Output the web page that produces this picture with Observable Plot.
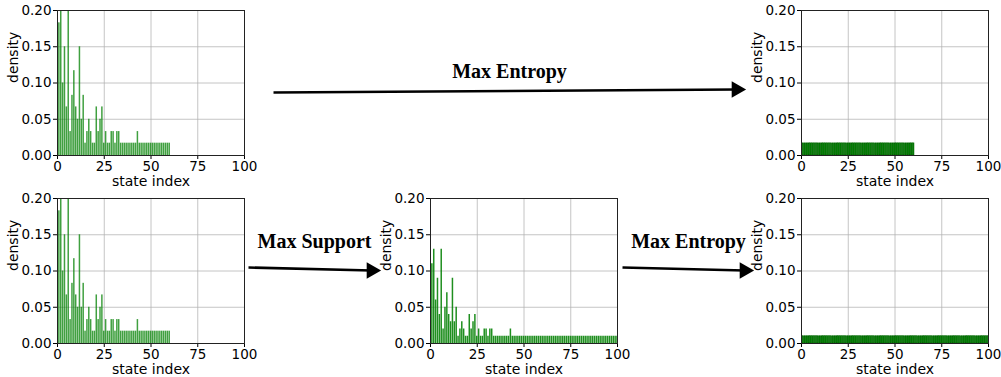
<!DOCTYPE html>
<html><head><meta charset="utf-8">
<script src="https://cdn.jsdelivr.net/npm/d3@7"></script>
<script src="https://cdn.jsdelivr.net/npm/@observablehq/plot@0.6"></script>
<style>
body{margin:0;background:#fff;}
#fig{position:relative;width:1001px;height:377px;overflow:hidden;background:#fff;}
#fig > svg{position:absolute;}
</style></head><body><div id="fig"></div>
<script>
// ---- data ----
const xTicks = [0, 25, 50, 75, 100];
const yTicks = [0, 0.05, 0.10, 0.15, 0.20];
const xLabel = "state index";
const yLabel = "density";

// original distribution, states 1..60
const densityOriginal = [
  0.183,0.217,0.100,0.150,0.067,0.217,0.033,0.083,0.117,0.067,
  0.050,0.150,0.050,0.083,0.017,0.033,0.050,0.033,0.017,0.017,
  0.067,0.033,0.050,0.067,0.017,0.033,0.017,0.017,0.033,0.033,
  0.017,0.033,0.033,0.017,0.017,0.017,0.017,0.017,0.017,0.017,
  0.017,0.017,0.033,0.017,0.017,0.017,0.017,0.017,0.017,0.017,
  0.017,0.017,0.017,0.017,0.017,0.017,0.017,0.017,0.017,0.017
];
// after max support, states 1..100
const densitySupport = [
  0.11,0.13,0.06,0.09,0.04,0.13,0.02,0.05,0.07,0.04,
  0.03,0.09,0.03,0.05,0.01,0.02,0.03,0.02,0.01,0.01,
  0.04,0.02,0.03,0.04,0.01,0.02,0.01,0.01,0.02,0.02,
  0.01,0.02,0.02,0.01,0.01,0.01,0.01,0.01,0.01,0.01,
  0.01,0.01,0.02,0.01,0.01,0.01,0.01,0.01,0.01,0.01,
  0.01,0.01,0.01,0.01,0.01,0.01,0.01,0.01,0.01,0.01,
  0.01,0.01,0.01,0.01,0.01,0.01,0.01,0.01,0.01,0.01,
  0.01,0.01,0.01,0.01,0.01,0.01,0.01,0.01,0.01,0.01,
  0.01,0.01,0.01,0.01,0.01,0.01,0.01,0.01,0.01,0.01,
  0.01,0.01,0.01,0.01,0.01,0.01,0.01,0.01,0.01,0.01
];
// max entropy on 60 states
const densityEntropy60 = [
  0.0167,0.0167,0.0167,0.0167,0.0167,0.0167,0.0167,0.0167,0.0167,0.0167,
  0.0167,0.0167,0.0167,0.0167,0.0167,0.0167,0.0167,0.0167,0.0167,0.0167,
  0.0167,0.0167,0.0167,0.0167,0.0167,0.0167,0.0167,0.0167,0.0167,0.0167,
  0.0167,0.0167,0.0167,0.0167,0.0167,0.0167,0.0167,0.0167,0.0167,0.0167,
  0.0167,0.0167,0.0167,0.0167,0.0167,0.0167,0.0167,0.0167,0.0167,0.0167,
  0.0167,0.0167,0.0167,0.0167,0.0167,0.0167,0.0167,0.0167,0.0167,0.0167
];
// max entropy on 100 states
const densityEntropy100 = [
  0.01,0.01,0.01,0.01,0.01,0.01,0.01,0.01,0.01,0.01,
  0.01,0.01,0.01,0.01,0.01,0.01,0.01,0.01,0.01,0.01,
  0.01,0.01,0.01,0.01,0.01,0.01,0.01,0.01,0.01,0.01,
  0.01,0.01,0.01,0.01,0.01,0.01,0.01,0.01,0.01,0.01,
  0.01,0.01,0.01,0.01,0.01,0.01,0.01,0.01,0.01,0.01,
  0.01,0.01,0.01,0.01,0.01,0.01,0.01,0.01,0.01,0.01,
  0.01,0.01,0.01,0.01,0.01,0.01,0.01,0.01,0.01,0.01,
  0.01,0.01,0.01,0.01,0.01,0.01,0.01,0.01,0.01,0.01,
  0.01,0.01,0.01,0.01,0.01,0.01,0.01,0.01,0.01,0.01,
  0.01,0.01,0.01,0.01,0.01,0.01,0.01,0.01,0.01,0.01
];
const stepLabels = ["Max Entropy", "Max Support", "Max Entropy"];

// ---- layout ----
const FW = 187, FH = 145, ML = 60, MT = 10, MB = 40, MR = 12;
const fig = document.getElementById("fig");
const toRows = arr => arr.map((v, k) => ({i: k + 1, v}));

function panel(values, frameX, frameY, style) {
  const svg = Plot.plot({
    width: ML + FW + MR, height: MT + FH + MB,
    marginLeft: ML, marginRight: MR, marginTop: MT, marginBottom: MB,
    x: {domain: [0, 100]},
    y: {domain: [0, 0.2]},
    style: {fontFamily: "'DejaVu Sans', sans-serif", fontSize: "13.5px", background: "transparent", color: "#000", overflow: "visible"},
    marks: [
      Plot.gridX(xTicks, {stroke: "#b0b0b0", strokeOpacity: 0.75, strokeWidth: 1}),
      Plot.gridY(yTicks, {stroke: "#b0b0b0", strokeOpacity: 0.75, strokeWidth: 1}),
      Plot.rectY(toRows(values), {
        x1: d => d.i - 0.4, x2: d => d.i + 0.4, y: "v",
        fill: style.fill, fillOpacity: style.opacity,
        stroke: style.stroke, strokeWidth: style.strokeWidth,
        clip: true
      }),
      Plot.axisX({ticks: xTicks, tickSize: 4, tickPadding: 2, label: null, fontSize: 13.5}),
      Plot.axisY({ticks: yTicks, tickSize: 4, tickPadding: 2, label: null, tickFormat: d3.format(".2f"), fontSize: 13.5}),
      Plot.frame({stroke: "#222", strokeWidth: 1}),
      Plot.text([xLabel], {frameAnchor: "bottom", lineAnchor: "middle", dy: 26, fontSize: 14}),
      Plot.text([yLabel], {frameAnchor: "left", lineAnchor: "middle", rotate: -90, dx: -44, fontSize: 14})
    ]
  });
  svg.style.left = (frameX - ML) + "px";
  svg.style.top = (frameY - MT) + "px";
  fig.appendChild(svg);
}

const light = {fill: "green", opacity: 0.75, stroke: "none", strokeWidth: 0};
const mid = {fill: "green", opacity: 0.88, stroke: "none", strokeWidth: 0};
const solid = {fill: "green", opacity: 1, stroke: "#006400", strokeWidth: 0.6};

panel(densityOriginal, 57, 10, light);
panel(densityEntropy60, 801, 10, solid);
panel(densityOriginal, 57, 198, light);
panel(densitySupport, 430, 198, mid);
panel(densityEntropy100, 801, 198, solid);

// ---- annotation overlay: arrows and step labels ----
const arrows = [
  {x1: 273, y1: 92, x2: 745, y2: 89},
  {x1: 248, y1: 267, x2: 380, y2: 270},
  {x1: 622, y1: 267, x2: 753, y2: 270}
];
const labelPos = [{x: 509, y: 71.5}, {x: 314, y: 241}, {x: 688, y: 241}];
const HEAD = 9;
const heads = arrows.map(a => ({x: a.x2 - HEAD, y: a.y2}));
const shafts = arrows.map(a => ({x1: a.x1, y1: a.y1, x2: a.x2 - HEAD, y2: a.y2}));
const labels = labelPos.map((p, k) => ({...p, text: stepLabels[k]}));

const overlay = Plot.plot({
  width: 1001, height: 377, margin: 0,
  x: {domain: [0, 1001], range: [0, 1001], axis: null},
  y: {domain: [0, 377], range: [0, 377], axis: null},
  style: {background: "transparent", overflow: "visible", pointerEvents: "none"},
  marks: [
    Plot.link(shafts, {x1: "x1", y1: "y1", x2: "x2", y2: "y2", stroke: "black", strokeWidth: 2.6}),
    Plot.dot(heads, {x: "x", y: "y", symbol: "triangle", r: 6.2, rotate: 90, fill: "black", stroke: "none"}),
    Plot.text(labels, {x: "x", y: "y", text: "text", fontFamily: "'Liberation Serif', 'Times New Roman', serif", fontWeight: "bold", fontSize: 20, fill: "black"})
  ]
});
overlay.style.left = "0px";
overlay.style.top = "0px";
fig.appendChild(overlay);
</script></body></html>
